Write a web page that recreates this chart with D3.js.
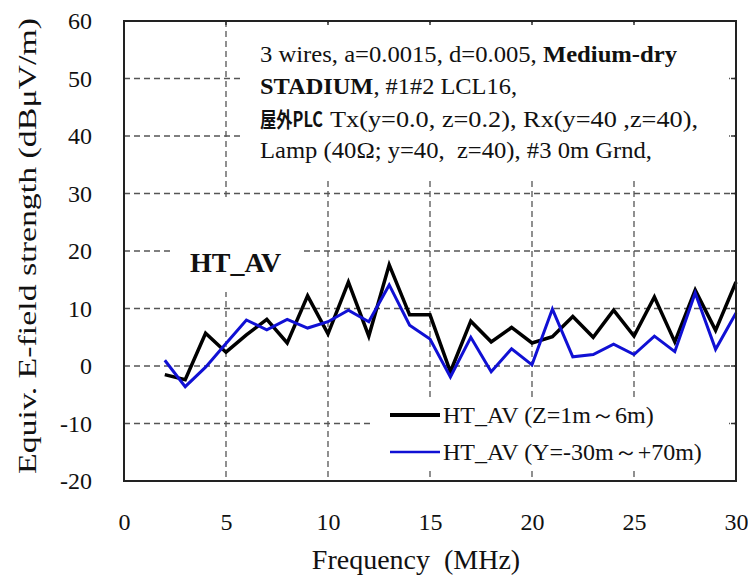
<!DOCTYPE html>
<html>
<head>
<meta charset="utf-8">
<script src="https://cdnjs.cloudflare.com/ajax/libs/d3/7.8.5/d3.min.js"></script>
<style>
  body { margin: 0; background: #fff; }
  text { font-family: "Liberation Serif", "Times New Roman", serif; fill: #111; }
  .grid line { stroke: #555; stroke-width: 1.3; stroke-dasharray: 6,4; }
</style>
</head>
<body>
<div id="chart"></div>
<script>
// data
var freqs = [2, 3, 4, 5, 6, 7, 8, 9, 10, 11, 12, 13, 14, 15, 16,
             17, 18, 19, 20, 21, 22, 23, 24, 25, 26, 27, 28, 29, 30];
var htAvZ = [-1.5, -2.4, 5.7, 2.4, 5.4, 8.1, 4.0, 12.2, 5.6, 14.6, 5.2, 17.6, 8.9, 8.9, -1.0,
             7.8, 4.2, 6.7, 4.0, 5.1, 8.6, 5.0, 9.7, 5.2, 12.0, 4.2, 13.2, 6.2, 14.6];
var htAvY = [1.0, -3.6, -0.2, 3.9, 8.0, 6.3, 8.1, 6.6, 7.7, 9.7, 7.7, 14.1, 7.1, 4.7, -1.9,
             5.0, -1.0, 3.0, 0.2, 9.9, 1.6, 2.0, 3.8, 2.0, 5.2, 2.5, 12.7, 2.9, 9.2];
var seriesNames = ["HT_AV (Z=1m\uFF5E6m)", "HT_AV (Y=-30m\uFF5E+70m)"];
var seriesColors = ["#000000", "#1010d4"];
var xTicks = [0, 5, 10, 15, 20, 25, 30];
var yTicks = [-20, -10, 0, 10, 20, 30, 40, 50, 60];

var chart = {
    svgWidth: 748,
    svgHeight: 578,
    margin: {"top": 21, "bottom": 97, "left": 124, "right": 12}
};
chart.width = chart.svgWidth - chart.margin.left - chart.margin.right;
chart.height = chart.svgHeight - chart.margin.top - chart.margin.bottom;

var svg = d3.select("#chart").append("svg")
    .attr("width", chart.svgWidth)
    .attr("height", chart.svgHeight);

var xScale = d3.scaleLinear().domain([0, 30])
    .range([chart.margin.left, chart.margin.left + chart.width]);
var yScale = d3.scaleLinear().domain([-20, 60])
    .range([chart.margin.top + chart.height, chart.margin.top]);

// dashed grid
var grid = svg.append("g").attr("class", "grid");
grid.selectAll("line.h")
    .data(yTicks.slice(1, -1))
    .enter().append("line")
    .attr("class", "h")
    .attr("x1", xScale(0)).attr("x2", xScale(30))
    .attr("y1", d => yScale(d)).attr("y2", d => yScale(d));
grid.selectAll("line.v")
    .data(xTicks.slice(1, -1))
    .enter().append("line")
    .attr("class", "v")
    .attr("x1", d => xScale(d)).attr("x2", d => xScale(d))
    .attr("y1", yScale(60)).attr("y2", yScale(-20));

// white panels behind the notes hide the grid
svg.append("rect").attr("x", 244).attr("y", 23).attr("width", 485).attr("height", 155).attr("fill", "#fff");
svg.append("rect").attr("x", 170).attr("y", 200).attr("width", 132).attr("height", 92).attr("fill", "#fff");
svg.append("rect").attr("x", 370).attr("y", 397).attr("width", 359).attr("height", 72).attr("fill", "#fff");

// series lines
var line = d3.line()
    .x((d, i) => xScale(freqs[i]))
    .y(d => yScale(d));

[htAvZ, htAvY].forEach(function(vals, k) {
    svg.append("path")
        .datum(vals)
        .attr("fill", "none")
        .attr("stroke", seriesColors[k])
        .attr("stroke-width", k == 0 ? 3.5 : 3)
        .attr("stroke-linejoin", "miter")
        .attr("d", line);
});

// axes (plain hyphen for negatives, like the original)
var xAxis = d3.axisBottom(xScale).tickValues(xTicks).tickSize(0).tickPadding(0)
    .tickFormat(d => String(d));
var yAxis = d3.axisLeft(yScale).tickValues(yTicks).tickSize(0).tickPadding(0)
    .tickFormat(d => String(d));

svg.append("g")
    .attr("transform", "translate(0," + yScale(-20) + ")")
    .call(xAxis)
    .call(g => g.select(".domain").remove())
    .selectAll("text")
    .attr("font-size", 24).attr("font-family", null)
    .attr("dy", null).attr("y", 49);

svg.append("g")
    .attr("transform", "translate(" + (xScale(0) - 32) + ",0)")
    .call(yAxis)
    .call(g => g.select(".domain").remove())
    .selectAll("text")
    .attr("font-size", 24).attr("font-family", null)
    .attr("x", 0).attr("dy", "0.33em");

// small inner ticks on top and right sides
svg.selectAll("line.ttick").data(xTicks.slice(1, -1)).enter().append("line")
    .attr("x1", d => xScale(d)).attr("x2", d => xScale(d))
    .attr("y1", yScale(60)).attr("y2", yScale(60) + 4)
    .attr("stroke", "#333").attr("stroke-width", 1.5);
svg.selectAll("line.rtick").data(yTicks.slice(1, -1)).enter().append("line")
    .attr("x1", xScale(30) - 5).attr("x2", xScale(30))
    .attr("y1", d => yScale(d)).attr("y2", d => yScale(d))
    .attr("stroke", "#333").attr("stroke-width", 1.5);

// frame
svg.append("rect")
    .attr("x", xScale(0)).attr("y", yScale(60))
    .attr("width", xScale(30) - xScale(0))
    .attr("height", yScale(-20) - yScale(60))
    .attr("fill", "none")
    .attr("stroke", "#222")
    .attr("stroke-width", 2);

// axis titles
svg.append("text")
    .attr("x", 416).attr("y", 569)
    .attr("text-anchor", "middle")
    .attr("font-size", 28)
    .style("white-space", "pre")
    .text("Frequency  (MHz)");

svg.append("text")
    .attr("transform", "translate(36, 246) rotate(-90)")
    .attr("text-anchor", "middle")
    .attr("font-size", 26)
    .attr("textLength", 456)
    .attr("lengthAdjust", "spacingAndGlyphs")
    .text("Equiv. E-field strength (dB\u03BCV/m)");

// condition notes, stretched to the widths seen in the original
var notes = svg.append("g").attr("font-size", 24);
var l1 = notes.append("text").attr("x", 260).attr("y", 62)
    .attr("textLength", 417).attr("lengthAdjust", "spacingAndGlyphs");
l1.append("tspan").text("3 wires,  a=0.0015, d=0.005, ");
l1.append("tspan").attr("font-weight", "bold").text("Medium-dry");

var l2 = notes.append("text").attr("x", 260).attr("y", 94)
    .attr("textLength", 257).attr("lengthAdjust", "spacingAndGlyphs");
l2.append("tspan").attr("font-weight", "bold").text("STADIUM");
l2.append("tspan").text(", #1#2 LCL16,");

// CJK part is narrow in the original: squeeze it with a transform
var cjk = notes.append("text")
    .attr("font-size", 21).attr("font-weight", "bold")
    .style("font-family", "'Noto Sans CJK JP', sans-serif")
    .text("\u5C4B\u5916PLC");
var cjkW = cjk.node().getComputedTextLength();
cjk.attr("transform", "translate(260,127) scale(" + (63 / cjkW) + ",1)");

notes.append("text").attr("x", 330).attr("y", 127)
    .attr("textLength", 368).attr("lengthAdjust", "spacingAndGlyphs")
    .text("Tx(y=0.0, z=0.2), Rx(y=40 ,z=40),");

notes.append("text").attr("x", 260).attr("y", 158)
    .style("white-space", "pre")
    .attr("textLength", 392).attr("lengthAdjust", "spacingAndGlyphs")
    .text("Lamp (40\u03A9; y=40,  z=40), #3 0m Grnd,");

svg.append("text")
    .attr("x", 190).attr("y", 272)
    .attr("font-size", 28).attr("font-weight", "bold")
    .text("HT_AV");

// legend
var legend = svg.append("g").attr("class", "legend");
seriesNames.forEach(function(name, k) {
    var ly = 415 + k * 37;
    legend.append("line")
        .attr("x1", 390).attr("x2", 440)
        .attr("y1", ly).attr("y2", ly)
        .attr("stroke", seriesColors[k])
        .attr("stroke-width", k == 0 ? 4 : 2.5);
    legend.append("text")
        .attr("x", 443).attr("y", ly + 8)
        .attr("font-size", 24)
        .text(name);
});
</script>
</body>
</html>
